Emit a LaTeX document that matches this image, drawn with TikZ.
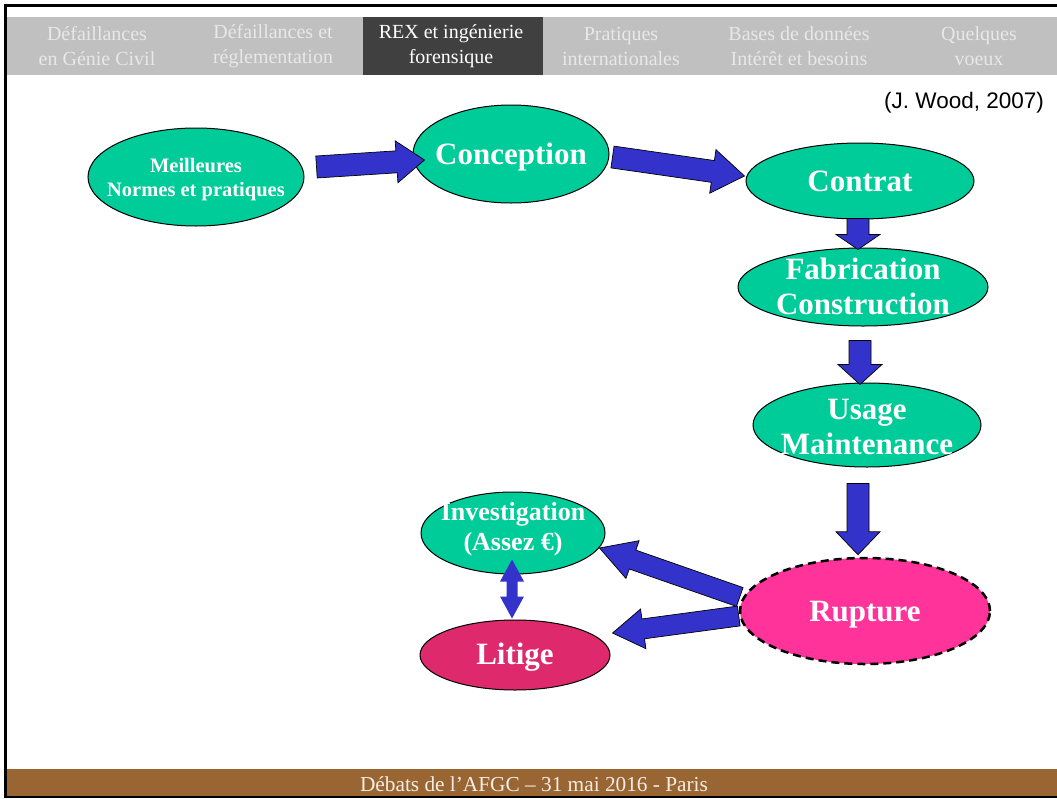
\documentclass[tikz,border=0pt]{standalone}
\usepackage{fontspec}
\setmainfont{Liberation Serif}
\newfontfamily\citefont{Liberation Sans}
\usetikzlibrary{shapes.geometric,calc}

\definecolor{ovalgreen}{HTML}{00CC99}
\definecolor{arrowblue}{HTML}{3333CC}
\definecolor{rupturepink}{HTML}{FF3399}
\definecolor{litigered}{HTML}{DE2A6C}
\definecolor{tabgray}{HTML}{C0C0C0}
\definecolor{tabdark}{HTML}{404040}
\definecolor{tablabel}{HTML}{E8E8E8}
\definecolor{footbrown}{HTML}{996633}
\definecolor{footlabel}{HTML}{F4ECE4}

\tikzset{
  oval/.style={ellipse, draw=black, line width=1pt, fill=ovalgreen, inner sep=0pt},
  ovaltext/.style={text=white, align=center, inner sep=0pt,
    font=\bfseries\fontsize{31}{35}\selectfont},
  fatarrowstyle/.style={fill=arrowblue, draw=black, line width=0.7pt, line join=miter},
  twinarrowstyle/.style={fill=arrowblue, draw=none},
  tablabel/.style={text=tablabel, align=center, font=\fontsize{20}{25}\selectfont},
}

% block arrow: start, tip, shaft half width, head half width, head length
\newcommand\fatarrow[6][fatarrowstyle]{%
  \coordinate (fa-s) at (#2);
  \coordinate (fa-e) at (#3);
  \coordinate (fa-h) at ($(fa-e)!#6!(fa-s)$);
  \filldraw[#1] ($(fa-s)!#4!90:(fa-e)$) -- ($(fa-h)!#4!-90:(fa-s)$)
    -- ($(fa-h)!#5!-90:(fa-s)$) -- (fa-e) -- ($(fa-h)!#5!90:(fa-s)$)
    -- ($(fa-h)!#4!90:(fa-s)$) -- ($(fa-s)!#4!-90:(fa-e)$) -- cycle;
}

% double-headed block arrow: tip A, tip B, shaft half width, head half width, head length
\newcommand\twinarrow[5]{%
  \coordinate (ta-a) at (#1);
  \coordinate (ta-b) at (#2);
  \coordinate (ta-ha) at ($(ta-a)!#5!(ta-b)$);
  \coordinate (ta-hb) at ($(ta-b)!#5!(ta-a)$);
  \fill[twinarrowstyle] (ta-a) -- ($(ta-ha)!#4!90:(ta-b)$) -- ($(ta-ha)!#3!90:(ta-b)$)
    -- ($(ta-hb)!#3!-90:(ta-a)$) -- ($(ta-hb)!#4!-90:(ta-a)$) -- (ta-b)
    -- ($(ta-hb)!#4!90:(ta-a)$) -- ($(ta-hb)!#3!90:(ta-a)$)
    -- ($(ta-ha)!#3!-90:(ta-b)$) -- ($(ta-ha)!#4!-90:(ta-b)$) -- cycle;
}

\begin{document}
\begin{tikzpicture}[x=1pt, y=-1pt]
  \useasboundingbox (0,0) rectangle (1057,798);
  \fill[white] (0,0) rectangle (1057,798);

  % navigation bar
  \fill[tabgray] (7,17) rectangle (1057,75);
  \fill[tabdark] (363,17) rectangle (543,75);
  \node[tablabel] (tab1) at (97,46) {Défaillances\\en Génie Civil};
  \node[tablabel] (tab2) at (273,46) {Défaillances et\\réglementation};
  \node[tablabel, text=white] (tab3) at (451,46) {REX et ingénierie\\forensique};
  \node[tablabel] (tab4) at (621,46) {Pratiques\\internationales};
  \node[tablabel] (tab5) at (799,46) {Bases de données\\Intérêt et besoins};
  \node[tablabel] (tab6) at (979,46) {Quelques\\voeux};

  % slide frame
  \draw[line width=3pt] (1057,5) -- (5,5) -- (5,798);
  \draw[line width=2pt] (5,797) -- (1057,797);

  % footer
  \fill[footbrown] (7,769) rectangle (1057,796);
  \node[text=footlabel, font=\fontsize{21.3}{24}\selectfont] (foot) at (534,784)
    {Débats de l’AFGC – 31 mai 2016 - Paris};

  % reference
  \node[font=\citefont\fontsize{22.5}{26}\selectfont] (cite) at (964,103) {(J. Wood, 2007)};

  % process ovals (labels set apart so they do not enlarge the ellipses)
  \node[oval, minimum width=216pt, minimum height=98pt,
        label={[ovaltext, yshift=-3pt, font=\bfseries\fontsize{20.5}{24}\selectfont]center:{Meilleures\\Normes et pratiques}}]
        (meil) at (196,177) {};
  \node[oval, minimum width=196pt, minimum height=98pt,
        label={[ovaltext, yshift=-3pt]center:Conception}] (conc) at (511,154) {};
  \node[oval, minimum width=228pt, minimum height=76pt,
        label={[ovaltext]center:Contrat}] (cont) at (860,181) {};
  \node[oval, minimum width=250pt, minimum height=78pt,
        label={[ovaltext, yshift=1pt]center:{Fabrication\\Construction}}] (fab) at (863,287) {};
  \node[oval, minimum width=228pt, minimum height=84pt,
        label={[ovaltext, yshift=-2pt]center:{Usage\\Maintenance}}] (usage) at (867,425) {};
  \node[oval, fill=rupturepink, line width=2.5pt, dash pattern=on 8pt off 5pt,
        minimum width=250pt, minimum height=106pt,
        label={[ovaltext, yshift=-4pt]center:Rupture}] (rup) at (865,611) {};
  \node[oval, minimum width=184pt, minimum height=82pt,
        label={[ovaltext, yshift=4pt, font=\bfseries\fontsize{26}{30}\selectfont]center:{Investigation\\(Assez €)}}]
        (inv) at (513,533) {};
  \node[oval, fill=litigered, minimum width=190pt, minimum height=70pt,
        label={[ovaltext, yshift=-2pt]center:Litige}] (lit) at (515,655) {};

  % block arrows between the ovals
  \fatarrow{$(meil.east)+(12,-10)$}{$(conc.west)+(12,6)$}{11pt}{21pt}{28pt}
  \fatarrow{$(conc.east)+(3,3)$}{$(cont.west)+(-1,-5)$}{11pt}{22pt}{32pt}
  \fatarrow{$(cont.south)+(-2,-1)$}{$(fab.north)+(-5,2)$}{11pt}{22pt}{15pt}
  \fatarrow{$(fab.south)+(-3,14)$}{$(usage.north)+(-7,2)$}{11pt}{22pt}{20pt}
  \fatarrow{$(usage.south)+(-9,16)$}{$(rup.north)+(-7,-2)$}{11pt}{22pt}{23pt}
  \fatarrow{$(rup.west)+(1,-14)$}{$(inv.east)+(-6,15)$}{10pt}{20pt}{35pt}
  \fatarrow{$(rup.west)+(0,5)$}{$(lit.east)+(2,-22)$}{10pt}{20pt}{31pt}
  \twinarrow{$(inv.south)+(-1,-15)$}{$(lit.north)+(-3,-1)$}{5.5pt}{12pt}{22pt}
\end{tikzpicture}
\end{document}
